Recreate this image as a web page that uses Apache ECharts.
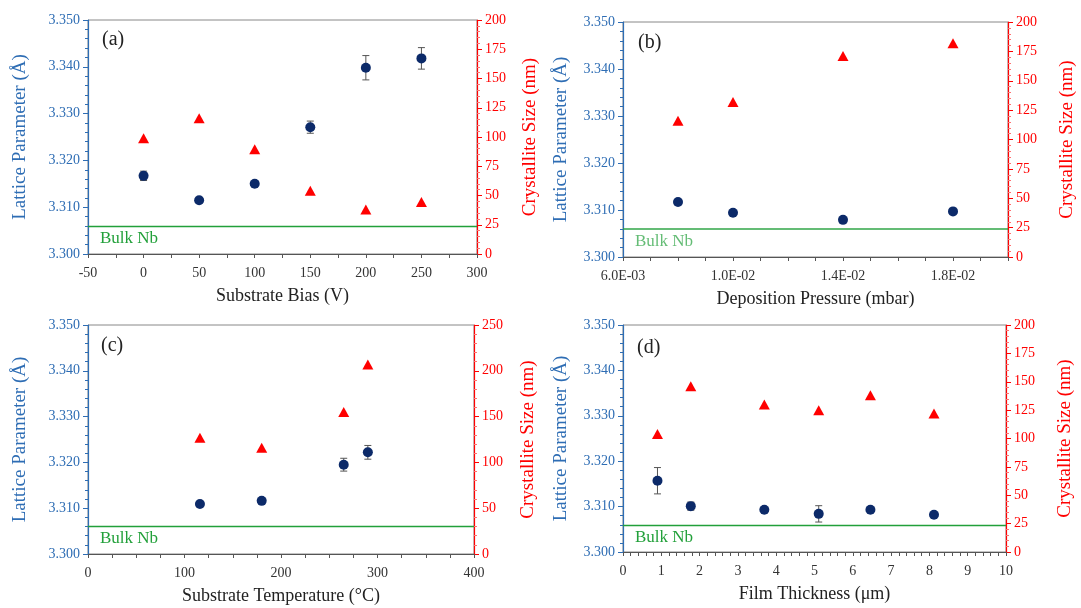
<!DOCTYPE html>
<html>
<head>
<meta charset="utf-8">
<script src="https://cdn.jsdelivr.net/npm/echarts@6/dist/echarts.min.js"></script>
<style>html,body{margin:0;padding:0;background:#fff}#c{width:1081px;height:608px}</style>
</head>
<body>
<div id="c"></div>
<script>
// ---- data ----
const bulkNb = 3.306;
// (a) substrate bias
const aX = [0, 50, 100, 150, 200, 250];
const aLat = [3.3167, 3.3115, 3.3150, 3.3271, 3.3398, 3.3418];
const aErr = [0.0010, 0.0005, 0.0005, 0.0013, 0.0026, 0.0023];
const aSize = [99, 116, 89.5, 54, 38, 44.5];
// (b) deposition pressure
const bX = [0.008, 0.010, 0.014, 0.018];
const bLat = [3.3117, 3.3094, 3.3079, 3.3097];
const bErr = [0.0004, 0.0004, 0.0004, 0.0004];
const bSize = [116, 132, 171, 182];
// (c) substrate temperature
const cX = [116, 180, 265, 290];
const cLat = [3.3109, 3.3116, 3.3195, 3.3222];
const cErr = [0.0004, 0.0004, 0.0014, 0.0015];
const cSize = [127, 116, 155, 207];
// (d) film thickness
const dX = [0.9, 1.77, 3.69, 5.11, 6.46, 8.12];
const dLat = [3.3157, 3.3101, 3.3093, 3.3084, 3.3093, 3.3082];
const dErr = [0.0029, 0.0009, 0.0004, 0.0018, 0.0004, 0.0004];
const dSize = [104, 146, 130, 125, 138, 122];

const panelLabels = ['(a)', '(b)', '(c)', '(d)'];
const xNames = ['Substrate Bias (V)', 'Deposition Pressure (mbar)', 'Substrate Temperature (°C)', 'Film Thickness (μm)'];
const leftName = 'Lattice Parameter (Å)';
const rightName = 'Crystallite Size (nm)';

// ---- styling ----
const SERIF = '"Liberation Serif", "DejaVu Serif", serif';
const BLUE = '#2e6db4';
const RED = '#ff0000';
const NAVY = '#0c2a69';
const GREEN = '#22a03a';

const grids = [
  {left: 88, right: 604, top: 20, bottom: 354},
  {left: 623, right: 73, top: 22, bottom: 351},
  {left: 88, right: 607, top: 325, bottom: 54},
  {left: 623, right: 75, top: 325, bottom: 56}
].map(g => Object.assign({show: true, borderColor: '#888', borderWidth: 1, backgroundColor: '#fff'}, g));

function pressureLabel(v) {
  const k = Math.round((v - 0.006) / 0.001);
  if (k % 4 !== 0) return '';
  const s = v.toExponential(1).toUpperCase(); // e.g. 1.0E-2
  const m = s.match(/^(.*)E([+-])(\d+)$/);
  return m[1] + 'E' + m[2] + (m[3].length < 2 ? '0' + m[3] : m[3]);
}

const xCfg = [
  {min: -50, max: 300, interval: 50, minor: 2, fmt: v => String(v)},
  {min: 0.006, max: 0.020, interval: 0.001, minor: 1, fmt: pressureLabel},
  {min: 0, max: 400, interval: 100, minor: 4, fmt: v => String(v)},
  {min: 0, max: 10, interval: 1, minor: 5, fmt: v => String(v)}
];
const rightCfg = [
  {max: 200, interval: 25}, {max: 200, interval: 25}, {max: 250, interval: 50}, {max: 200, interval: 25}
];
const leftGap = [58, 52, 58, 52];
const rightGap = [44, 50, 45, 50];

const xAxis = xCfg.map((c, i) => ({
  type: 'value', gridIndex: i, min: c.min, max: c.max, interval: c.interval,
  name: xNames[i], nameLocation: 'middle', nameGap: 33,
  nameTextStyle: {fontFamily: SERIF, fontSize: 18, color: '#222'},
  axisLine: {show: true, onZero: false, lineStyle: {color: '#555', width: 1.2}},
  axisTick: {show: true, length: 4, lineStyle: {color: '#555'}},
  minorTick: {show: c.minor > 1, splitNumber: c.minor, length: 4, lineStyle: {color: '#555'}},
  splitLine: {show: false},
  axisLabel: {fontFamily: SERIF, fontSize: 14, color: '#333', margin: 12, formatter: c.fmt, showMinLabel: true, showMaxLabel: true}
}));

const yAxis = [];
for (let i = 0; i < 4; i++) {
  yAxis.push({
    type: 'value', gridIndex: i, position: 'left', min: 3.300, max: 3.350, interval: 0.010,
    name: leftName, nameLocation: 'middle', nameGap: leftGap[i],
    nameTextStyle: {fontFamily: SERIF, fontSize: 19, color: BLUE},
    axisLine: {show: true, onZero: false, lineStyle: {color: BLUE, width: 1.2}},
    axisTick: {show: true, length: 5, lineStyle: {color: BLUE}},
    minorTick: {show: true, splitNumber: 5, length: 3, lineStyle: {color: BLUE}},
    splitLine: {show: false},
    axisLabel: {fontFamily: SERIF, fontSize: 14, color: BLUE, margin: 8, formatter: v => v.toFixed(3)}
  });
  yAxis.push({
    type: 'value', gridIndex: i, position: 'right', min: 0, max: rightCfg[i].max, interval: rightCfg[i].interval,
    name: rightName, nameLocation: 'middle', nameGap: rightGap[i], nameRotate: 90,
    nameTextStyle: {fontFamily: SERIF, fontSize: 19, color: RED},
    axisLine: {show: true, onZero: false, lineStyle: {color: RED, width: 1.2}},
    axisTick: {show: true, length: 5, lineStyle: {color: RED}},
    minorTick: {show: true, splitNumber: 5, length: 3, lineStyle: {color: '#ff7070'}},
    splitLine: {show: false},
    axisLabel: {fontFamily: SERIF, fontSize: 14, color: RED, margin: 8}
  });
}

function errRender(params, api) {
  const x = api.value(0), y = api.value(1), e = api.value(2);
  const t = api.coord([x, y + e]);
  const b = api.coord([x, y - e]);
  const w = 3.5;
  const st = {stroke: '#555', lineWidth: 1};
  return {type: 'group', children: [
    {type: 'line', shape: {x1: t[0], y1: t[1], x2: b[0], y2: b[1]}, style: st},
    {type: 'line', shape: {x1: t[0] - w, y1: t[1], x2: t[0] + w, y2: t[1]}, style: st},
    {type: 'line', shape: {x1: b[0] - w, y1: b[1], x2: b[0] + w, y2: b[1]}, style: st}
  ]};
}

const panels = [
  [aX, aLat, aErr, aSize], [bX, bLat, bErr, bSize], [cX, cLat, cErr, cSize], [dX, dLat, dErr, dSize]
];
const series = [];
panels.forEach((p, i) => {
  const [xs, lat, err, size] = p;
  series.push({
    type: 'custom', xAxisIndex: i, yAxisIndex: 2 * i, renderItem: errRender, z: 2, silent: true,
    encode: {x: 0, y: 1},
    data: xs.map((x, k) => [x, lat[k], err[k]])
  });
  series.push({
    type: 'scatter', xAxisIndex: i, yAxisIndex: 2 * i, symbol: 'circle', symbolSize: 10, z: 3,
    itemStyle: {color: NAVY, opacity: 1},
    data: xs.map((x, k) => [x, lat[k]]),
    markLine: {
      silent: true, symbol: 'none', animation: false, precision: 4,
      lineStyle: {color: GREEN, type: 'solid', width: i === 1 ? 2 : 1.3, opacity: i === 1 ? 0.7 : 1},
      label: {show: true, position: 'insideStartBottom', formatter: 'Bulk Nb', color: GREEN, fontFamily: SERIF, fontSize: 17, distance: [12, 4]},
      data: [{yAxis: bulkNb}]
    }
  });
  series.push({
    type: 'scatter', xAxisIndex: i, yAxisIndex: 2 * i + 1, symbol: 'triangle', symbolSize: [11, 10], z: 3,
    itemStyle: {color: RED, opacity: 1},
    data: xs.map((x, k) => [x, size[k]])
  });
});

const labelPos = [[102, 30], [638, 33], [101, 336], [637, 338]];
const graphic = panelLabels.map((t, i) => ({
  type: 'text', left: labelPos[i][0], top: labelPos[i][1],
  style: {text: t, fontFamily: SERIF, fontSize: 20, fill: '#222'}
}));

const chart = echarts.init(document.getElementById('c'), null, {renderer: 'canvas'});
chart.setOption({
  animation: false,
  backgroundColor: '#fff',
  grid: grids, xAxis: xAxis, yAxis: yAxis, series: series, graphic: graphic
});
</script>
</body>
</html>
